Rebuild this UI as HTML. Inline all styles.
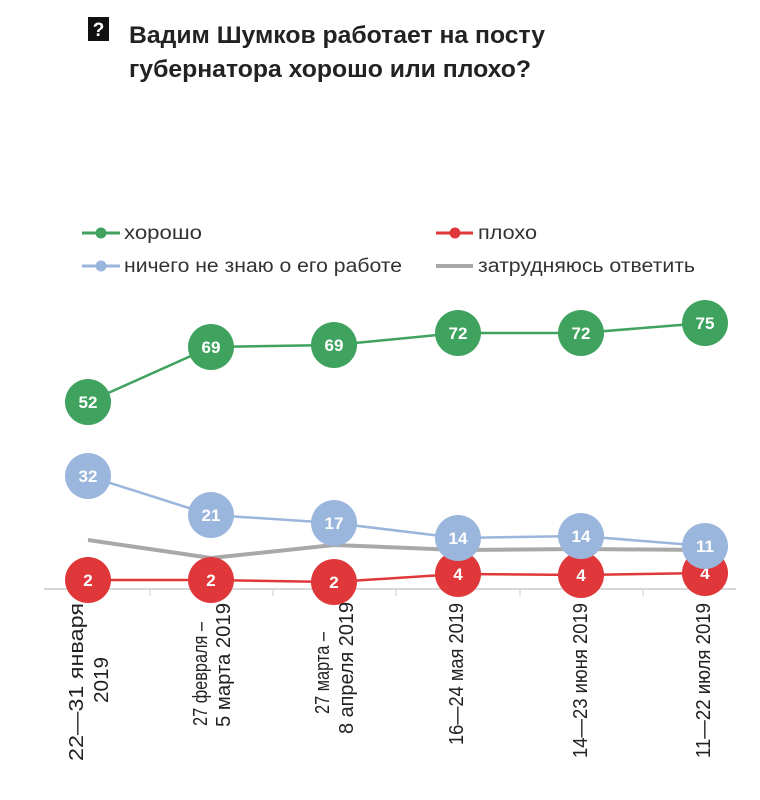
<!DOCTYPE html>
<html><head><meta charset="utf-8"><style>
html,body{margin:0;padding:0;background:#fff;width:760px;height:800px;overflow:hidden}
svg{display:block}
text{font-family:"Liberation Sans",sans-serif}
</style></head><body>
<svg width="760" height="800" viewBox="0 0 760 800">
<rect x="88" y="17" width="21" height="24" fill="#111"/>
<text x="98.5" y="36" fill="#fff" font-size="19" font-weight="bold" text-anchor="middle">?</text>
<text x="129" y="43" font-size="24" font-weight="bold" fill="#222" textLength="416" lengthAdjust="spacingAndGlyphs">Вадим Шумков работает на посту</text>
<text x="129" y="77" font-size="24" font-weight="bold" fill="#222" textLength="402" lengthAdjust="spacingAndGlyphs">губернатора хорошо или плохо?</text>

<g font-size="19" fill="#333">
<line x1="82" y1="233" x2="120" y2="233" stroke="#3fa35f" stroke-width="3"/><circle cx="101" cy="233" r="5.5" fill="#3fa35f"/>
<text x="124" y="239" textLength="78" lengthAdjust="spacingAndGlyphs">хорошо</text>
<line x1="82" y1="266" x2="120" y2="266" stroke="#9bb6dc" stroke-width="3"/><circle cx="101" cy="266" r="5.5" fill="#9bb6dc"/>
<text x="124" y="272" textLength="278" lengthAdjust="spacingAndGlyphs">ничего не знаю о его работе</text>
<line x1="436" y1="233" x2="473" y2="233" stroke="#e0383a" stroke-width="3"/><circle cx="455" cy="233" r="5.5" fill="#e0383a"/>
<text x="478" y="239" textLength="59" lengthAdjust="spacingAndGlyphs">плохо</text>
<line x1="436" y1="266" x2="473" y2="266" stroke="#a8a8a8" stroke-width="4"/>
<text x="478" y="272" textLength="217" lengthAdjust="spacingAndGlyphs">затрудняюсь ответить</text>
</g>

<line x1="44" y1="589" x2="736" y2="589" stroke="#ccc" stroke-width="1.5"/>
<g stroke="#ccc" stroke-width="1"><line x1="150" y1="589" x2="150" y2="596"/><line x1="273" y1="589" x2="273" y2="596"/><line x1="396" y1="589" x2="396" y2="596"/><line x1="520" y1="589" x2="520" y2="596"/><line x1="643" y1="589" x2="643" y2="596"/></g>

<polyline points="88,540 211,558 334,545 458,550 581,549 705,550" fill="none" stroke="#a8a8a8" stroke-width="4"/>
<polyline points="88,476 211,515 334,523 458,538 581,536 705,546" fill="none" stroke="#9bb6dc" stroke-width="2.5"/>
<polyline points="88,580 211,580 334,582 458,574 581,575 705,573" fill="none" stroke="#e0383a" stroke-width="2.5"/>
<polyline points="88,402 211,347 334,345 458,333 581,333 705,323" fill="none" stroke="#3fa35f" stroke-width="2.5"/>

<g font-size="17" font-weight="bold" fill="#fff" text-anchor="middle">
<g fill="#e0383a"><circle cx="88" cy="580" r="23"/><circle cx="211" cy="580" r="23"/><circle cx="334" cy="582" r="23"/><circle cx="458" cy="574" r="23"/><circle cx="581" cy="575" r="23"/><circle cx="705" cy="573" r="23"/></g>
<text x="88" y="586">2</text><text x="211" y="586">2</text><text x="334" y="588">2</text><text x="458" y="580">4</text><text x="581" y="581">4</text><text x="705" y="579">4</text>
<g fill="#9bb6dc"><circle cx="88" cy="476" r="23"/><circle cx="211" cy="515" r="23"/><circle cx="334" cy="523" r="23"/><circle cx="458" cy="538" r="23"/><circle cx="581" cy="536" r="23"/><circle cx="705" cy="546" r="23"/></g>
<text x="88" y="482">32</text><text x="211" y="521">21</text><text x="334" y="529">17</text><text x="458" y="544">14</text><text x="581" y="542">14</text><text x="705" y="552">11</text>
<g fill="#3fa35f"><circle cx="88" cy="402" r="23"/><circle cx="211" cy="347" r="23"/><circle cx="334" cy="345" r="23"/><circle cx="458" cy="333" r="23"/><circle cx="581" cy="333" r="23"/><circle cx="705" cy="323" r="23"/></g>
<text x="88" y="408">52</text><text x="211" y="353">69</text><text x="334" y="351">69</text><text x="458" y="339">72</text><text x="581" y="339">72</text><text x="705" y="329">75</text>
</g>

<g font-size="20" fill="#222">
<text transform="translate(83,682) rotate(-90)" text-anchor="middle" textLength="158" lengthAdjust="spacingAndGlyphs">22—31 января</text>
<text transform="translate(108,680) rotate(-90)" text-anchor="middle" textLength="46" lengthAdjust="spacingAndGlyphs">2019</text>
<text transform="translate(207,674) rotate(-90)" text-anchor="middle" textLength="104" lengthAdjust="spacingAndGlyphs">27 февраля –</text>
<text transform="translate(230,665) rotate(-90)" text-anchor="middle" textLength="124" lengthAdjust="spacingAndGlyphs">5 марта 2019</text>
<text transform="translate(329,673) rotate(-90)" text-anchor="middle" textLength="82" lengthAdjust="spacingAndGlyphs">27 марта –</text>
<text transform="translate(353,668) rotate(-90)" text-anchor="middle" textLength="132" lengthAdjust="spacingAndGlyphs">8 апреля 2019</text>
<text transform="translate(463,603) rotate(-90)" text-anchor="end" textLength="142" lengthAdjust="spacingAndGlyphs">16—24 мая 2019</text>
<text transform="translate(587,603) rotate(-90)" text-anchor="end" textLength="155" lengthAdjust="spacingAndGlyphs">14—23 июня 2019</text>
<text transform="translate(710,603) rotate(-90)" text-anchor="end" textLength="155" lengthAdjust="spacingAndGlyphs">11—22 июля 2019</text>
</g>
</svg>
</body></html>
